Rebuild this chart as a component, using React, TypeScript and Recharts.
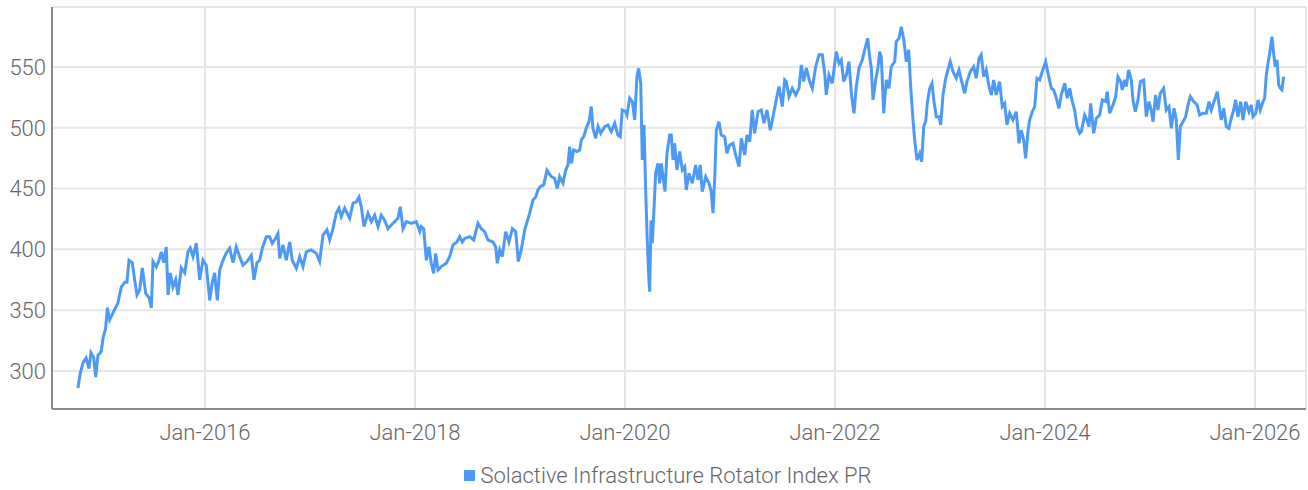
import React from 'react';
import { LineChart, Line, XAxis, YAxis, CartesianGrid, Legend } from 'recharts';

// decimal years
const dates = [
  2014.790, 2014.812, 2014.838, 2014.867, 2014.895, 2014.914, 2014.940, 2014.959, 2014.981, 2015.012,
  2015.029, 2015.054, 2015.070, 2015.092, 2015.124, 2015.171, 2015.203, 2015.235, 2015.257, 2015.276,
  2015.308, 2015.330, 2015.352, 2015.378, 2015.403, 2015.435, 2015.467, 2015.489, 2015.505, 2015.536,
  2015.562, 2015.584, 2015.607, 2015.631, 2015.648, 2015.670, 2015.695, 2015.721, 2015.743, 2015.774,
  2015.807, 2015.838, 2015.860, 2015.886, 2015.917, 2015.950, 2015.981, 2016.012, 2016.045, 2016.070,
  2016.092, 2016.117, 2016.140, 2016.171, 2016.203, 2016.235, 2016.267, 2016.298, 2016.330, 2016.362,
  2016.400, 2016.441, 2016.467, 2016.495, 2016.521, 2016.546, 2016.584, 2016.616, 2016.641, 2016.673,
  2016.695, 2016.711, 2016.743, 2016.774, 2016.807, 2016.831, 2016.870, 2016.902, 2016.933, 2016.965,
  2017.012, 2017.060, 2017.092, 2017.124, 2017.162, 2017.188, 2017.219, 2017.250, 2017.276, 2017.298,
  2017.330, 2017.378, 2017.410, 2017.441, 2017.467, 2017.489, 2017.514, 2017.552, 2017.584, 2017.616,
  2017.648, 2017.679, 2017.711, 2017.743, 2017.774, 2017.807, 2017.838, 2017.860, 2017.886, 2017.917,
  2017.965, 2018.012, 2018.045, 2018.060, 2018.083, 2018.108, 2018.133, 2018.155, 2018.178, 2018.197,
  2018.219, 2018.250, 2018.298, 2018.330, 2018.362, 2018.400, 2018.426, 2018.450, 2018.473, 2018.521,
  2018.559, 2018.600, 2018.631, 2018.664, 2018.695, 2018.743, 2018.769, 2018.784, 2018.807, 2018.831,
  2018.864, 2018.895, 2018.927, 2018.959, 2018.984, 2019.012, 2019.045, 2019.092, 2019.124, 2019.150,
  2019.171, 2019.193, 2019.226, 2019.257, 2019.298, 2019.330, 2019.355, 2019.378, 2019.410, 2019.435,
  2019.457, 2019.473, 2019.489, 2019.511, 2019.543, 2019.569, 2019.584, 2019.607, 2019.631, 2019.657,
  2019.679, 2019.695, 2019.721, 2019.743, 2019.769, 2019.807, 2019.838, 2019.870, 2019.902, 2019.933,
  2019.955, 2019.974, 2020.007, 2020.019, 2020.045, 2020.070, 2020.092, 2020.114, 2020.130, 2020.150,
  2020.165, 2020.181, 2020.197, 2020.212, 2020.226, 2020.235, 2020.248, 2020.260, 2020.273, 2020.292,
  2020.314, 2020.330, 2020.346, 2020.362, 2020.381, 2020.400, 2020.426, 2020.441, 2020.457, 2020.473,
  2020.495, 2020.521, 2020.546, 2020.569, 2020.584, 2020.610, 2020.641, 2020.673, 2020.695, 2020.717,
  2020.736, 2020.769, 2020.800, 2020.822, 2020.838, 2020.854, 2020.870, 2020.895, 2020.917, 2020.950,
  2020.971, 2020.997, 2021.029, 2021.054, 2021.086, 2021.108, 2021.140, 2021.162, 2021.188, 2021.212,
  2021.235, 2021.267, 2021.298, 2021.324, 2021.352, 2021.384, 2021.410, 2021.441, 2021.467, 2021.498,
  2021.521, 2021.536, 2021.562, 2021.593, 2021.626, 2021.657, 2021.679, 2021.702, 2021.727, 2021.759,
  2021.784, 2021.816, 2021.848, 2021.879, 2021.902, 2021.917, 2021.943, 2021.974, 2022.012, 2022.038,
  2022.060, 2022.083, 2022.108, 2022.133, 2022.159, 2022.181, 2022.203, 2022.229, 2022.260, 2022.283,
  2022.312, 2022.330, 2022.346, 2022.362, 2022.388, 2022.410, 2022.426, 2022.441, 2022.464, 2022.489,
  2022.514, 2022.536, 2022.569, 2022.584, 2022.610, 2022.631, 2022.654, 2022.679, 2022.702, 2022.721,
  2022.743, 2022.759, 2022.781, 2022.807, 2022.826, 2022.845, 2022.864, 2022.879, 2022.902, 2022.924,
  2022.943, 2022.965, 2022.990, 2023.007, 2023.029, 2023.054, 2023.076, 2023.098, 2023.124, 2023.155,
  2023.181, 2023.203, 2023.235, 2023.257, 2023.289, 2023.321, 2023.346, 2023.371, 2023.393, 2023.416,
  2023.441, 2023.467, 2023.489, 2023.511, 2023.536, 2023.568, 2023.593, 2023.616, 2023.638, 2023.664,
  2023.695, 2023.727, 2023.752, 2023.774, 2023.797, 2023.816, 2023.838, 2023.854, 2023.879, 2023.902,
  2023.924, 2023.950, 2023.974, 2024.007, 2024.029, 2024.060, 2024.083, 2024.108, 2024.133, 2024.155,
  2024.188, 2024.212, 2024.235, 2024.260, 2024.283, 2024.305, 2024.330, 2024.346, 2024.378, 2024.400,
  2024.419, 2024.435, 2024.464, 2024.489, 2024.521, 2024.546, 2024.578, 2024.593, 2024.616, 2024.648,
  2024.673, 2024.695, 2024.721, 2024.736, 2024.759, 2024.774, 2024.797, 2024.822, 2024.838, 2024.860,
  2024.886, 2024.908, 2024.940, 2024.965, 2024.990, 2025.012, 2025.029, 2025.054, 2025.076, 2025.098,
  2025.130, 2025.155, 2025.181, 2025.203, 2025.229, 2025.250, 2025.270, 2025.289, 2025.314, 2025.340,
  2025.362, 2025.384, 2025.416, 2025.448, 2025.473, 2025.505, 2025.536, 2025.562, 2025.584, 2025.616,
  2025.641, 2025.664, 2025.679, 2025.702, 2025.727, 2025.752, 2025.774, 2025.797, 2025.816, 2025.838,
  2025.864, 2025.886, 2025.912, 2025.943, 2025.965, 2025.981, 2026.007, 2026.029, 2026.050, 2026.070,
  2026.092, 2026.108, 2026.124, 2026.140, 2026.162, 2026.178, 2026.193, 2026.210, 2026.226, 2026.241,
  2026.257, 2026.273,
];

const indexValues = [
  286, 298, 306.6, 310.7, 302, 315, 311, 295, 313, 316,
  327, 335, 352, 342, 347.7, 356, 369, 373, 373, 391,
  389, 375, 362.5, 366.6, 384.7, 364, 360, 351.8, 390, 385.7,
  391, 398, 389, 402, 362.5, 380.6, 369, 375, 362.5, 384.7,
  380.6, 398, 401, 394, 405, 375, 391, 387, 358, 373,
  380.6, 358, 383, 391, 397, 401, 389, 402, 394, 387,
  390, 395, 375, 389, 391, 401, 410.4, 410.4, 405, 409,
  413, 392.6, 403.6, 391, 406, 391, 384.5, 394, 385.8, 398,
  399.5, 396.7, 390, 411.8, 416, 407.7, 417, 429.6, 433.8, 427,
  433.8, 425.6, 438, 439, 443, 435, 418.7, 429.6, 422.8, 428,
  418.7, 428, 424, 417, 420, 422.8, 425.6, 435, 417, 422.8,
  421.4, 422.8, 414.6, 418.7, 417, 391, 402, 388.5, 380.3, 396.7,
  383, 385.8, 388.5, 394, 403.6, 406, 410.4, 406, 409, 410.4,
  407.7, 421.4, 417, 414.6, 407.7, 406, 402, 388.5, 399.5, 394,
  414.6, 406, 417, 414.6, 390, 399.5, 416, 429.6, 440.6, 443,
  448.8, 451.5, 453, 465, 459.8, 458.3, 450, 459.8, 454.3, 465,
  469.4, 484.4, 470.7, 481.7, 480.4, 481.7, 490, 492.6, 499.5, 505,
  517.4, 499.5, 491.3, 501, 495.4, 501, 502.3, 496.8, 503.7, 494,
  492.6, 514.6, 513.2, 510.5, 524.3, 521.5, 506.4, 542, 548.8, 536.5,
  473.5, 502.3, 448.8, 407.7, 377.5, 365.2, 424, 405, 427, 462.5,
  470.7, 454.3, 470.7, 459.8, 447.5, 479, 494, 494, 473.5, 487.2,
  465.3, 480.4, 465.3, 468, 448.8, 462.5, 454.3, 469.4, 457, 469.4,
  447.5, 459.8, 454.3, 447.5, 429.7, 457, 498, 505, 494, 492.6,
  479, 485.8, 487.2, 477.6, 468, 491.3, 477.6, 494, 488.5, 514.6,
  495.4, 513.2, 514.6, 503.7, 514.6, 498, 509.1, 522.9, 533.9, 517.4,
  539.3, 538, 525.6, 532.4, 527, 532.4, 551.6, 538, 549, 538,
  532.4, 550.2, 560, 560, 544.8, 527, 543.4, 536.5, 562.6, 553,
  555.8, 538, 543.4, 554.4, 525.6, 511.9, 533.9, 549, 555.8, 564,
  573.5, 558.4, 549, 522.9, 539.3, 550.2, 562.6, 558.4, 511.9, 539.3,
  532.4, 550.2, 554.4, 570.8, 573.5, 583.1, 573.5, 554.4, 564, 533.9,
  506.4, 490, 473.5, 479, 472.2, 501, 505, 520, 532.4, 536.5,
  521.5, 509.1, 509.1, 502.3, 527, 540.7, 547.5, 554.4, 546.2, 540.7,
  547.5, 539.3, 528.3, 538, 546.2, 550.2, 540.7, 557, 560, 542,
  547.5, 533.9, 527, 539.3, 527, 538, 517.4, 520, 502.3, 511.9,
  506.4, 513.2, 487.2, 498, 490, 474.9, 496.8, 506.4, 513.2, 517.4,
  540.7, 539.3, 546.2, 554.4, 544.8, 532.4, 531.1, 524.3, 516, 527,
  536.5, 524.3, 532.4, 521.5, 514.6, 501, 495.4, 496.8, 510.5, 506.4,
  501, 520, 495.4, 507.8, 510.5, 522.9, 521.5, 529.7, 511.9, 518.8,
  525.6, 542, 538, 531.1, 539.3, 533.9, 547.5, 539.3, 522.9, 513.2,
  522.9, 538, 539.3, 509.1, 521.5, 514.6, 505, 527, 514.6, 528.3,
  532.4, 514.6, 517.4, 499.5, 516, 506.4, 473.5, 501, 505, 509.1,
  518.8, 525.6, 521.5, 518.8, 510.5, 511.9, 511.9, 521.5, 514.6, 522.9,
  529.7, 514.6, 506.4, 516, 501, 499.5, 507.8, 514.6, 522.9, 509.1,
  521.5, 506.4, 521.5, 513.2, 518.8, 509.1, 511.9, 522.9, 514.6, 520,
  524.3, 543.4, 553, 561.2, 574.9, 561.2, 550.2, 555.8, 535.2, 532.4,
  531.1, 542,
];

const xTicks = [2016, 2018, 2020, 2022, 2024, 2026];
const xTickLabels = ['Jan-2016', 'Jan-2018', 'Jan-2020', 'Jan-2022', 'Jan-2024', 'Jan-2026'];
const yTicks = [300, 350, 400, 450, 500, 550];

const SERIES_NAME = 'Solactive Infrastructure Rotator Index PR';

const data = dates.map((d, i) => ({ date: d, value: indexValues[i] }));

const FONT = 'Roboto, "Noto Sans", sans-serif';
const TEXT = '#666666';
const LINE = '#4d9af6';

const tickStyle = { fontSize: 22, fill: TEXT, fontFamily: FONT, fontWeight: 300 };

const LegendContent = () => (
  <div
    style={{
      height: 30,
      display: 'flex',
      alignItems: 'center',
      justifyContent: 'center',
      paddingLeft: 30,
      fontFamily: FONT,
      fontWeight: 300,
      fontSize: 22,
      color: TEXT,
    }}
  >
    <span style={{ width: 11, height: 11, background: LINE, marginRight: 5, display: 'inline-block' }} />
    <span>{SERIES_NAME}</span>
  </div>
);

export default function App() {
  return (
    <div style={{ width: 1308, height: 490 }}>
      <style>{'body{margin:0;}'}</style>
      <LineChart width={1308} height={490} data={data} margin={{ top: 7, right: 2, left: 0, bottom: 0 }}>
        <CartesianGrid stroke="#e6e6e6" strokeWidth={2} />
        <XAxis
          dataKey="date"
          type="number"
          domain={[2014.543, 2026.486]}
          ticks={xTicks}
          tickFormatter={(v: number) => xTickLabels[xTicks.indexOf(v)]}
          allowDataOverflow
          tickLine={false}
          tickMargin={9}
          height={51}
          stroke="#888888"
          strokeWidth={2}
          tick={tickStyle}
        />
        <YAxis
          type="number"
          domain={[268.7, 599.3]}
          ticks={yTicks}
          allowDataOverflow
          tickLine={false}
          tickMargin={0}
          width={52}
          stroke="#888888"
          strokeWidth={2}
          tick={tickStyle}
        />
        <Legend verticalAlign="bottom" height={30} content={LegendContent} />
        <Line
          type="linear"
          dataKey="value"
          name={SERIES_NAME}
          stroke={LINE}
          strokeWidth={3}
          dot={false}
          isAnimationActive={false}
        />
      </LineChart>
    </div>
  );
}
